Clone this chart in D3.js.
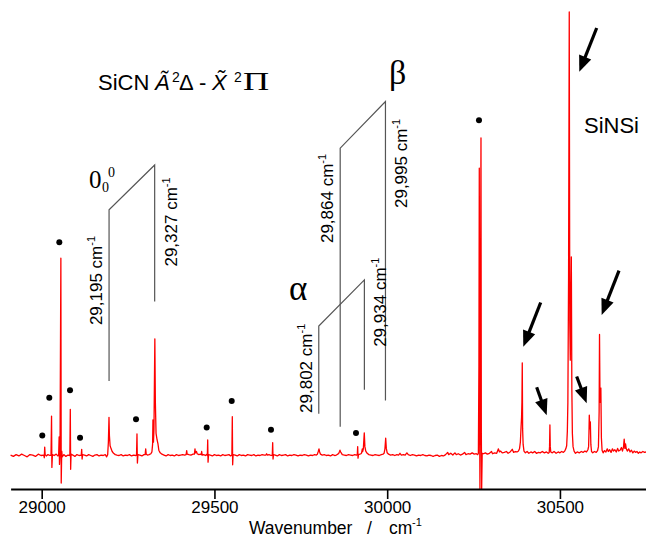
<!DOCTYPE html>
<html><head><meta charset="utf-8">
<script src="https://cdn.jsdelivr.net/npm/d3@7"></script>
<style>body{margin:0;background:#fff}svg{display:block}</style>
</head><body><svg id="c" width="646" height="538"></svg>
<script>
// ---------- data ----------
const spectrum = [
[28910,0.1],[28918,-0.2],[28926,0.2],[28934,-0.1],[28942,0.3],[28950,0.0],[28958,-0.3],[28966,0.2],[28974,0.1],[28982,-0.2],[28990,0.3],[28998,0.0],
[29006,0.1],[29007.5,-0.5],[29008.7,1.9],[29010,0.2],[29013,-0.1],[29018,0.2],[29024,0.0],
[29027,0.1],[29028.5,8.9],[29029.5,-2.7],[29031,0.2],[29036,0.0],[29042,0.3],[29047,-0.1],
[29049,0.0],[29050.5,4.2],[29051.5,-2.0],[29053,0.5],[29055.5,44.5],[29056.5,-6.2],[29058,1.0],[29059.5,-0.3],
[29064,0.2],[29070,-0.2],[29076,0.1],
[29081.5,0.0],[29082.8,10.4],[29083.8,-3.1],[29085,0.3],[29090,0.1],[29096,-0.2],[29102,0.2],[29108,0.0],
[29114.5,0.1],[29115.8,1.4],[29117,-0.8],[29118.5,0.2],
[29124,0.1],[29130,-0.1],[29136,0.2],[29142,0.0],[29148,-0.2],[29154,0.1],[29160,0.2],[29166,-0.1],[29172,0.1],[29178,0.0],[29184,0.2],[29188,-0.3],
[29191,0.2],[29193,3.0],[29194.8,8.6],[29196,4.5],[29198,2.2],[29201,1.5],[29204,0.9],[29208,0.5],[29213,0.2],
[29218,0.1],[29224,0.0],[29230,0.2],[29236,-0.1],[29242,0.1],[29248,0.0],[29254,0.2],[29260,-0.1],[29266,0.1],[29272,0.0],
[29274.5,0.1],[29275.8,4.85],[29277,-1.7],[29278.5,0.2],[29284,0.1],[29290,-0.1],[29296,0.2],
[29299.5,0.2],[29301,1.5],[29302.5,0.3],[29306,0.1],[29311,0.2],[29316,0.4],
[29319,0.8],[29321,2.5],[29322,8.0],[29323.5,3.0],[29325,6.0],[29327.5,26.3],[29329,12.0],[29331,5.0],[29334,3.5],[29336.6,2.6],[29339,1.2],[29343,0.6],[29348,0.3],
[29354,0.1],[29360,-0.1],[29366,0.2],[29372,0.0],[29378,0.1],[29384,-0.1],[29390,0.2],[29396,0.0],[29402,0.1],[29408,0.2],[29414,0.1],
[29418,0.2],[29419.7,1.1],[29421,0.3],[29426,0.2],[29432,0.1],[29438,0.3],
[29442,0.3],[29443.7,1.5],[29445,0.6],[29448,0.9],[29450,0.4],[29455,0.2],[29460,0.3],
[29462,0.2],[29463,0.9],[29464.5,0.1],[29469,0.2],[29474,0.0],
[29478,0.3],[29479.5,0.0],[29480.5,3.5],[29481.5,-1.5],[29483,0.2],
[29488,0.1],[29494,-0.1],[29500,0.2],[29506,0.0],[29512,0.1],[29518,-0.1],[29524,0.2],[29530,0.0],[29536,0.1],[29542,0.2],[29547,-0.1],
[29550.5,0.1],[29551.7,8.75],[29552.7,-2.1],[29554,0.2],
[29560,0.1],[29566,-0.1],[29572,0.2],[29578,0.0],[29584,0.1],[29590,-0.1],[29596,0.2],[29602,0.1],[29608,0.0],[29614,0.2],[29620,-0.1],[29626,0.1],[29632,0.0],[29638,0.2],[29644,0.1],
[29649,0.1],[29651,0.4],[29653,0.1],[29658,0.2],[29664,0.0],
[29667.5,0.1],[29668.6,2.9],[29669.6,-0.8],[29671,0.2],
[29676,0.1],[29682,-0.1],[29688,0.2],[29694,0.0],[29700,0.1],[29706,0.2],[29712,-0.1],[29718,0.1],[29724,0.0],[29730,0.2],[29736,0.1],[29742,-0.1],[29748,0.1],[29754,0.0],[29760,0.2],[29766,0.1],[29772,-0.1],[29778,0.1],[29784,0.0],[29790,0.2],[29795,0.1],
[29798,0.3],[29800.5,0.9],[29802.6,1.5],[29804.5,0.8],[29807,0.3],[29812,0.1],[29818,0.2],[29824,0.0],[29830,0.1],[29836,-0.1],[29842,0.2],[29848,0.0],[29853,0.1],[29857,0.3],
[29860,0.5],[29862,0.9],[29863.4,1.2],[29865,0.8],[29867,0.6],[29870,0.2],[29876,0.1],[29882,0.0],[29888,0.2],[29894,0.1],[29900,0.0],[29906,0.2],[29911,0.1],
[29913.5,0.2],[29914.6,2.0],[29915.6,-0.6],[29917,0.2],[29921,0.3],
[29924,0.4],[29926,0.6],[29928,1.5],[29929,0.9],[29931,1.5],[29933.7,5.1],[29935.5,2.0],[29938,1.0],[29942,0.5],[29947,0.2],[29953,0.1],[29959,0.0],[29965,0.2],[29971,0.1],[29977,0.0],[29983,0.2],[29988,0.3],
[29991,0.5],[29993.5,1.5],[29995.7,3.9],[29997.5,1.6],[30000,0.6],[30004,0.3],[30010,0.1],[30016,0.2],[30022,0.0],[30028,0.2],[30033,0.1],
[30037,0.5],[30041,0.1],[30047,0.2],[30052,0.1],[30057,0.6],[30061,0.2],[30067,0.0],[30073,0.2],[30079,0.1],[30085,-0.1],[30091,0.1],[30097,0.0],[30103,0.2],[30109,0.0],[30115,-0.1],[30121,0.1],[30127,0.0],[30133,-0.2],[30139,0.0],[30145,0.1],
[30151,-0.2],[30157,0.0],[30163,-0.1],[30169,0.2],[30175,0.7],[30178,0.2],[30184,0.5],[30190,0.1],[30196,0.6],[30200,0.2],[30206,0.4],[30212,0.1],[30218,0.3],[30224,0.7],[30228,0.2],[30234,0.4],[30240,0.3],[30246,0.6],[30252,0.3],[30258,0.4],[30262,0.2],
[30264,0.5],[30265.5,20],[30266.6,64.8],[30267.5,10],[30268.5,-7.5],[30270,30],[30271.5,71.6],[30272.5,5],[30273.5,-7.5],[30275,0.5],
[30279,0.4],[30284,0.6],[30290,0.3],[30296,0.5],[30302,0.9],[30305,0.4],[30311,0.6],[30317,0.5],[30322,1.5],[30325,0.8],[30328,1.0],[30333,0.6],[30339,0.7],[30345,0.9],[30350,0.5],[30356,0.8],[30362,1.4],[30366,0.7],[30371,0.9],[30376,0.8],[30380,1.0],
[30383,1.5],[30385.5,3.0],[30387.5,6.5],[30389,8.7],[30390,12],[30391,20.9],[30392,6],[30393.5,2.5],[30396,1.0],[30400,0.6],[30405,0.9],[30410,0.5],[30416,0.8],[30421,0.6],[30427,0.9],[30432,0.5],[30438,0.7],[30443,0.6],[30449,0.9],[30455,0.6],[30461,0.8],[30466,0.5],
[30469,0.7],[30470,2.0],[30471,6.9],[30472,2.0],[30473.5,0.8],[30478,0.6],[30483,0.9],[30489,0.5],[30495,0.8],[30500,0.6],[30505,0.9],[30510,0.7],[30514,1.0],[30517,1.5],
[30519.5,2.2],[30521.5,5.5],[30523,12],[30525,40],[30527,100],[30528.5,30],[30530,21.5],[30531.5,35],[30533,44.8],[30534.5,15],[30536,5],[30538,2.0],[30541,1.0],
[30545,0.5],[30550,0.8],[30556,0.6],[30562,0.9],[30567,0.7],[30572,1.0],[30577,0.8],[30581,1.3],
[30583,2.0],[30584,5],[30585,9.1],[30586.5,6],[30588,7.6],[30589.5,2.5],[30591.5,0.9],[30595,0.6],[30600,0.9],[30605,0.7],[30609,1.1],
[30611.5,2.0],[30613.5,10],[30614.6,27.3],[30616,12],[30617,15],[30618.5,15.2],[30620,4],[30622,1.2],[30625,0.6],[30629,1.1],[30633,0.8],[30637,1.5],[30640,0.9],[30644,1.3],[30648,0.7],[30652,1.5],[30655,1.0],[30659,1.3],[30663,0.8],[30667,1.6],[30670,1.0],[30674,1.2],[30678,1.8],[30681,1.0],[30684,1.9],[30686,3.7],[30688,1.6],[30690,2.6],[30692,1.5],[30695,1.0],[30699,1.5],[30703,0.8],[30707,1.2],[30711,0.6],[30715,1.0],[30719,0.7],[30723,0.9],[30727,0.5],[30731,0.8],[30735,0.6],[30740,0.9],[30745,0.7],[30750,0.8]
];
// dots marking other bands: [wavenumber, intensity]
const dotMarks = [[29001.7,4.5],[29022,13.0],[29051,48.1],[29082,14.7],[29111,4.0],[29273,8.2],[29477.6,6.3],[29550,12.3],[29663.7,5.8],[29909.7,5.1],[30265.7,75.6]];
// SiCN band pairs (0_0^0, alpha, beta)
const levelLow  = [29195, 29802, 29864];
const levelHigh = [29327, 29934, 29995];
const levelLowText  = ["29,195", "29,802", "29,864"];
const levelHighText = ["29,327", "29,934", "29,995"];
const levelLowTop  = [55.4, 29.2, 69.3];
const levelHighTop = [65.5, 39.6, 79.8];
const levelLowBot  = [16.8, 9.4, 6.5];
const levelHighBot = [34.7, 14.8, 12.4];
const levelLowLab  = [29.4, 9.6, 47.9];
const levelHighLab = [42.6, 24.5, 55.8];
// SiNSi arrows: [tailWn, tailI, tipWn, tipI]
const arrows = [[30606.4,96.4,30556,86.5],[30444.3,34.5,30393.9,24.5],[30432.7,15.4,30461.7,9.1],[30548.5,17.8,30577.4,11.8],[30671,41.7,30620.8,31.7]];
const majorTicks = [29000, 29500, 30000, 30500];
const minorTicks = [29100,29200,29300,29400,29600,29700,29800,29900,30100,30200,30300,30400,30600,30700];

// ---------- drawing ----------
const svg = d3.select("#c");
const x = d3.scaleLinear().domain([28910, 30750]).range([10.6, 646.3]);
const y = d3.scaleLinear().domain([0, 100]).range([455.5, 12]);
const axisY = 489;
const SANS = "'Liberation Sans', Arial, sans-serif";
const SERIF = "'Liberation Serif', 'Times New Roman', serif";

// annotation lines
const ann = svg.append("g").attr("stroke", "#555").attr("stroke-width", 1.2).attr("fill", "none");
levelLow.forEach((lo, i) => {
  const hi = levelHigh[i];
  ann.append("path").attr("d", d3.line()([
    [x(lo), y(levelLowBot[i])], [x(lo), y(levelLowTop[i])],
    [x(hi), y(levelHighTop[i])], [x(hi), y(levelHighBot[i])]
  ]));
});
function vlabel(px, py, txt) {
  const t = svg.append("text").attr("transform", `translate(${px},${py}) rotate(-90)`)
    .attr("font-family", SANS).attr("font-size", 17).attr("fill", "#000");
  t.append("tspan").text(txt + " cm");
  t.append("tspan").attr("font-size", 11).attr("dy", -7).text("-1");
}
levelLow.forEach((lo, i) => {
  vlabel(x(lo) - 7, y(levelLowLab[i]), levelLowText[i]);
  vlabel(x(levelHigh[i]) + 22, y(levelHighLab[i]), levelHighText[i]);
});

// spectrum
svg.append("path").datum(spectrum)
  .attr("d", d3.line().x(d => x(d[0])).y(d => y(d[1])))
  .attr("fill", "none").attr("stroke", "#ff0000").attr("stroke-width", 1.3).attr("stroke-linejoin", "round");

// dots
svg.append("g").selectAll("circle").data(dotMarks).join("circle")
  .attr("cx", d => x(d[0])).attr("cy", d => y(d[1])).attr("r", 3).attr("fill", "#000");

// arrows
const ag = svg.append("g");
arrows.forEach(a => {
  const x0 = x(a[0]), y0 = y(a[1]), x1 = x(a[2]), y1 = y(a[3]);
  const ang = Math.atan2(y1 - y0, x1 - x0);
  const hl = 16, hw = 6.5;
  const bx = x1 - hl * Math.cos(ang), by = y1 - hl * Math.sin(ang);
  ag.append("line").attr("x1", x0).attr("y1", y0).attr("x2", bx + 2 * Math.cos(ang)).attr("y2", by + 2 * Math.sin(ang))
    .attr("stroke", "#000").attr("stroke-width", 3.2);
  ag.append("path").attr("d", d3.line()([
    [x1, y1],
    [bx - hw * Math.sin(ang), by + hw * Math.cos(ang)],
    [bx + hw * Math.sin(ang), by - hw * Math.cos(ang)]
  ]) + "Z").attr("fill", "#000");
});

// axis
const axG = svg.append("g").attr("transform", `translate(0,${axisY})`);
axG.call(d3.axisBottom(x).tickValues(minorTicks).tickSize(6).tickSizeOuter(0).tickFormat(""));
axG.call(d3.axisBottom(x).tickValues(majorTicks).tickSize(10).tickSizeOuter(0).tickFormat(d3.format("d")).tickPadding(2));
axG.selectAll("path.domain").attr("stroke-width", 1.8).attr("stroke", "#000");
axG.selectAll(".tick line").attr("stroke-width", 1.6).attr("stroke", "#000");
axG.selectAll("text").attr("font-family", SANS).attr("font-size", 17).attr("fill", "#000");

function txt(px, py, s, opts) {
  const t = svg.append("text").attr("x", px).attr("y", py).text(s)
    .attr("font-family", (opts && opts.ff) || SANS).attr("font-size", (opts && opts.fs) || 22).attr("fill", "#000");
  if (opts && opts.it) t.attr("font-style", "italic");
  return t;
}
// axis title
txt(249, 534, "Wavenumber", {fs: 17.5});
txt(367, 534, "/", {fs: 17.5});
txt(389, 534, "cm", {fs: 17.5});
txt(412, 526, "-1", {fs: 11});

// title
txt(98, 90, "SiCN");
txt(155, 90, "A\u0303", {it: true});
txt(172, 82, "2", {fs: 14});
txt(179, 90, "\u0394");
txt(199, 90, "-");
txt(212, 90, "X\u0303", {it: true});
txt(234, 82, "2", {fs: 14});
svg.append("text").attr("transform", "translate(243,90) scale(1.45,1)")
  .attr("font-family", SERIF).attr("font-size", 25).attr("fill", "#000").text("\u03A0");

txt(584, 133, "SiNSi");

// 0_0^0 label and greek letters
txt(89, 188, "0", {ff: SERIF, fs: 25});
txt(102, 192, "0", {ff: SERIF, fs: 14});
txt(108, 177, "0", {ff: SERIF, fs: 14});
txt(289, 300, "\u03B1", {ff: SERIF, fs: 35});
txt(389, 84, "\u03B2", {ff: SERIF, fs: 34});
</script></body></html>
